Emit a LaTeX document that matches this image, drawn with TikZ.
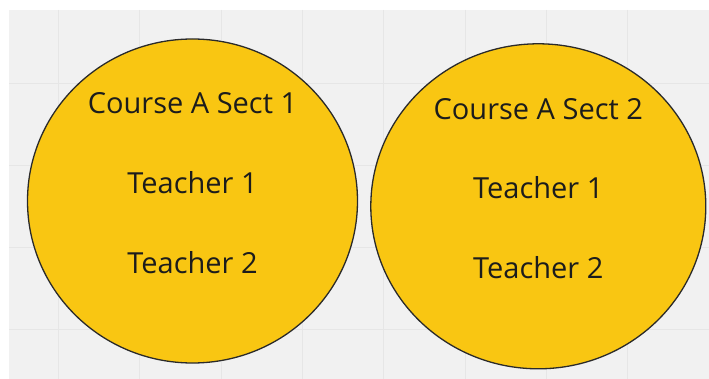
\documentclass[tikz,border=0pt]{standalone}
\usepackage{fontspec}
\setmainfont{Open Sans}
\usetikzlibrary{shapes.geometric}
\definecolor{bgg}{HTML}{F1F1F1}
\definecolor{gridc}{HTML}{E6E6E6}
\definecolor{yel}{HTML}{F9C612}
\definecolor{txt}{HTML}{1C1C1C}
\definecolor{edge}{HTML}{2A2A2A}
\tikzset{
  blob/.style={ellipse, fill=yel, draw=edge, line width=1.3pt, inner sep=0pt},
  lbl/.style={anchor=base, text=txt, font=\fontsize{29}{33}\selectfont, inner sep=0pt},
  gridline/.style={draw=gridc, line width=0.8pt}
}
\begin{document}
\begin{tikzpicture}[x=1pt,y=-1pt]
\useasboundingbox (0,0) rectangle (709,379);
\fill[white] (0,0) rectangle (709,379);
\fill[bgg] (9,10) rectangle (709,379);
\foreach \gx in {58,139.5,221,302,383.5,465,546,627.5}
  \draw[gridline] (\gx,10) -- (\gx,379);
\foreach \gy in {83,165,247,329}
  \draw[gridline] (9,\gy) -- (709,\gy);
\node[blob, minimum width=330pt, minimum height=324pt] (c1) at (192.5,201) {};
\node[blob, minimum width=335pt, minimum height=325pt] (c2) at (538.3,206.3) {};
\node[lbl] (c1t) at (192.5,114) {Course A Sect 1};
\node[lbl] (c1a) at (192.5,193.5) {Teacher 1};
\node[lbl] (c1b) at (192.5,273.5) {Teacher 2};
\node[lbl] (c2t) at (538.3,119.5) {Course A Sect 2};
\node[lbl] (c2a) at (538.3,199) {Teacher 1};
\node[lbl] (c2b) at (538.3,278.5) {Teacher 2};
\end{tikzpicture}
\end{document}
